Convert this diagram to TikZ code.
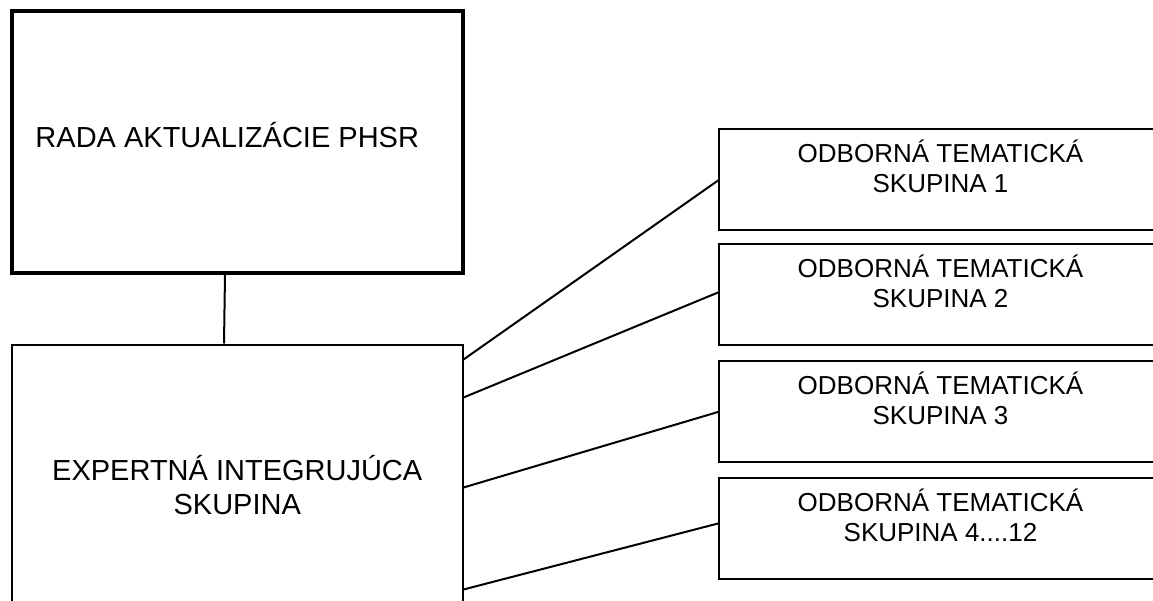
\documentclass[tikz,border=0pt]{standalone}
\usepackage{fontspec}
\setmainfont{Liberation Sans}
\begin{document}
\begin{tikzpicture}[x=1pt,y=-1pt,
  thickbox/.style={draw, line width=4pt, anchor=north west, inner sep=0pt},
  thinbox/.style={draw, line width=2pt, anchor=north west, inner sep=0pt},
  conn/.style={line width=2pt},
  bigtext/.style={font=\fontsize{29}{34}\selectfont, align=center},
  smalltext/.style={font=\fontsize{26}{30}\selectfont, align=center, anchor=north, inner sep=0pt, yshift=-11.5pt}]
\useasboundingbox (0,0) rectangle (1153,601);
\node[thickbox, minimum width=450.5pt, minimum height=262pt,
  label={[bigtext, xshift=-10pt, yshift=7pt]center:RADA AKTUALIZÁCIE PHSR}] (rada) at (10,9) {};
\node[thinbox, minimum width=450.5pt, minimum height=281pt, bigtext] (eis) at (11,343.5) {EXPERTNÁ INTEGRUJÚCA\\SKUPINA};
\node[thinbox, minimum width=443pt, minimum height=101pt,
  label={[smalltext]north:ODBORNÁ TEMATICKÁ\\SKUPINA 1}] (ots1) at (718,128) {};
\node[thinbox, minimum width=443pt, minimum height=101pt,
  label={[smalltext]north:ODBORNÁ TEMATICKÁ\\SKUPINA 2}] (ots2) at (718,243) {};
\node[thinbox, minimum width=443pt, minimum height=101pt,
  label={[smalltext]north:ODBORNÁ TEMATICKÁ\\SKUPINA 3}] (ots3) at (718,360) {};
\node[thinbox, minimum width=443pt, minimum height=101pt,
  label={[smalltext]north:ODBORNÁ TEMATICKÁ\\SKUPINA 4....12}] (ots4) at (718,477) {};
\draw[conn] ([xshift=-12.25pt]rada.south) -- ([xshift=-13.25pt]eis.north);
\draw[conn] ([yshift=-16pt]eis.north east) -- ([yshift=-1pt]ots1.west);
\draw[conn] ([yshift=-54pt]eis.north east) -- ([yshift=2pt]ots2.west);
\draw[conn] ([yshift=-144pt]eis.north east) -- ([yshift=-0.5pt]ots3.west);
\draw[conn] ([yshift=-246pt]eis.north east) -- ([yshift=5pt]ots4.west);
\end{tikzpicture}
\end{document}
